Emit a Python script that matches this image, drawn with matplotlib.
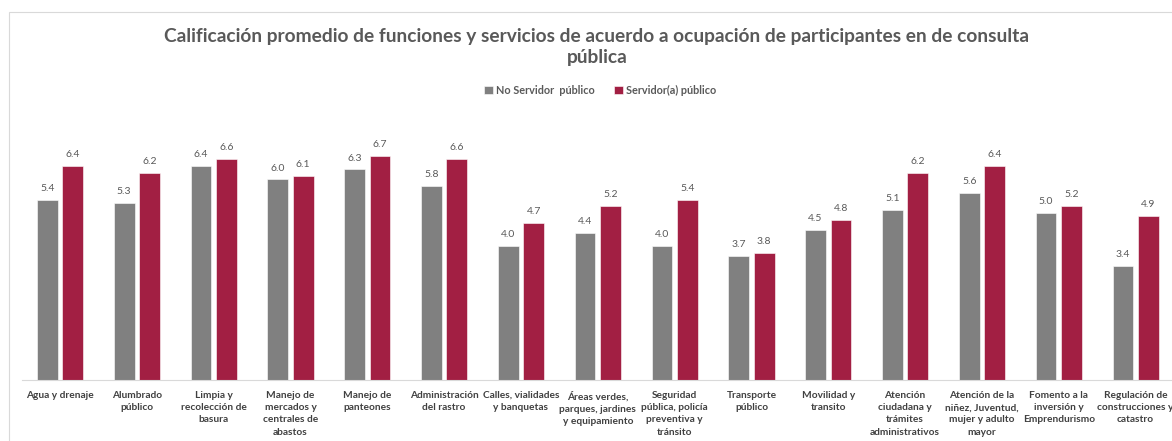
import numpy as np
import matplotlib.pyplot as plt
from matplotlib.patches import Rectangle

plt.rcParams['font.family'] = ['Lato', 'DejaVu Sans']

categorias = ["Agua y drenaje", "Alumbrado\npúblico", "Limpia y\nrecolección de\nbasura",
              "Manejo de\nmercados y\ncentrales de\nabastos", "Manejo de\npanteones",
              "Administración\ndel rastro", "Calles, vialidades\ny banquetas",
              "Áreas verdes,\nparques, jardines\ny equipamiento",
              "Seguridad\npública, policía\npreventiva y\ntránsito", "Transporte\npúblico",
              "Movilidad y\ntransito", "Atención\nciudadana y\ntrámites\nadministrativos",
              "Atención de la\nniñez, Juventud,\nmujer y adulto\nmayor",
              "Fomento a la\ninversión y\nEmprendurismo",
              "Regulación de\nconstrucciones y\ncatastro"]
no_servidor = [5.4, 5.3, 6.4, 6.0, 6.3, 5.8, 4.0, 4.4, 4.0, 3.7, 4.5, 5.1, 5.6, 5.0, 3.4]
servidor = [6.4, 6.2, 6.6, 6.1, 6.7, 6.6, 4.7, 5.2, 5.4, 3.8, 4.8, 6.2, 6.4, 5.2, 4.9]

gris = '#808080'
guinda = '#A21F43'
texto = '#595959'

fig = plt.figure(figsize=(11.72, 4.41), dpi=100)
fig.patches.append(Rectangle((9 / 1172, -0.1), 1.2, 1.1 - 12 / 441, transform=fig.transFigure,
                             fill=False, edgecolor='#D9D9D9', lw=0.8))
ax = fig.add_axes([21.6 / 1172, 61 / 441, (1174 - 21.6) / 1172, 264 / 441])

x = np.arange(len(categorias))
w = 0.27
b1 = ax.bar(x - 0.165, no_servidor, w, color=gris, edgecolor='white', lw=0.4, label='No Servidor  público')
b2 = ax.bar(x + 0.165, servidor, w, color=guinda, edgecolor='white', lw=0.4, label='Servidor(a) público')
for bars in (b1, b2):
    ax.bar_label(bars, fmt='%.1f', padding=5, fontsize=7.5, color=texto)

ax.set_xlim(-0.5, len(categorias) - 0.5)
ax.set_ylim(0, 7.9)
ax.set_yticks([])
ax.set_xticks(x)
ax.set_xticklabels(categorias, fontsize=7.3, color='#404040', fontweight='bold', linespacing=1.45)
ax.tick_params(axis='x', length=0, pad=8)
for s in ['top', 'right', 'left']:
    ax.spines[s].set_visible(False)
ax.spines['bottom'].set_color('#D9D9D9')

fig.text(597 / 1172, 1 - 47 / 441, 'Calificación promedio de funciones y servicios de acuerdo a ocupación de participantes en de consulta\npública',
         ha='center', va='center', fontsize=13.8, fontweight='bold', color=texto, linespacing=1.25)
fig.legend(loc='center', bbox_to_anchor=(600 / 1172, 1 - 90 / 441), ncol=2, frameon=False,
           prop={'weight': 'bold', 'size': 7.8}, labelcolor=texto,
           handlelength=0.8, handleheight=0.8, handletextpad=0.3, columnspacing=1.8)

fig.savefig('out.png', dpi=100)
